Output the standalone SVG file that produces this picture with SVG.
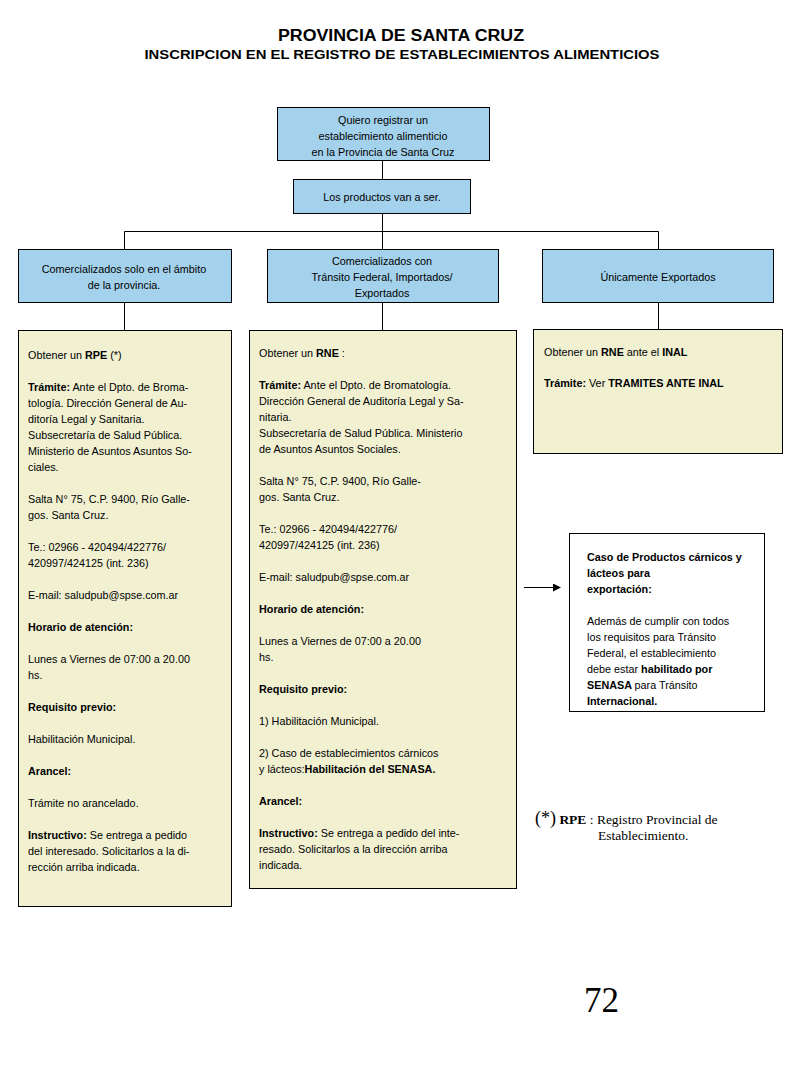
<svg xmlns="http://www.w3.org/2000/svg" width="800" height="1066" viewBox="0 0 800 1066">
<style>
text{font-family:"Liberation Sans",Arial,sans-serif;fill:#000}
.t1{font-size:16px;font-weight:bold}
.t2{font-size:13.5px;font-weight:bold}
.blue{fill:#a4d2ec;stroke:#000;stroke-width:1}
.yel{fill:#f1f1d2;stroke:#000;stroke-width:1}
.wht{fill:#fff;stroke:#000;stroke-width:1}
.s{font-size:10.8px}
.c{text-anchor:middle}
.b{font-weight:bold}
.con{stroke:#000;stroke-width:1;fill:none}
.serif{font-family:"Liberation Serif","Times New Roman",serif}
</style>
<defs>
<marker id="ar" markerWidth="8" markerHeight="8" refX="7" refY="4" orient="auto" markerUnits="userSpaceOnUse">
<path d="M0,0 L8,4 L0,8 z" fill="#000"/>
</marker>
</defs>
<rect width="800" height="1066" fill="#fff"/>
<text class="t1 c" x="401" y="41" textLength="246" lengthAdjust="spacingAndGlyphs">PROVINCIA DE SANTA CRUZ</text>
<text class="t2 c" x="402" y="59" textLength="515" lengthAdjust="spacingAndGlyphs">INSCRIPCION EN EL REGISTRO DE ESTABLECIMIENTOS ALIMENTICIOS</text>

<g id="connectors">
<path class="con" d="M382.5,160 V179"/>
<path class="con" d="M382.5,213 V231.5 M124.5,231.5 H658.5 M124.5,231.5 V249 M382.5,231.5 V249 M658.5,231.5 V249"/>
<path class="con" d="M124.5,302 V330 M382.5,302 V330 M658.5,302 V329"/>
<path class="con" d="M524,587.5 H560" marker-end="url(#ar)"/>
</g>

<g id="start">
<rect class="blue" x="277.5" y="107.5" width="212" height="53"/>
<text class="s c" x="383" y="124">Quiero registrar un</text>
<text class="s c" x="383" y="140">establecimiento alimenticio</text>
<text class="s c" x="383" y="156">en la Provincia de Santa Cruz</text>
</g>

<g id="productos">
<rect class="blue" x="293.5" y="179.5" width="177" height="34"/>
<text class="s c" x="382" y="201">Los productos van a ser.</text>
</g>

<g id="provincia">
<rect class="blue" x="18.5" y="249.5" width="213" height="53"/>
<text class="s c" x="124" y="273">Comercializados solo en el ámbito</text>
<text class="s c" x="124" y="289">de la provincia.</text>
</g>

<g id="federal">
<rect class="blue" x="267.5" y="249.5" width="231" height="53"/>
<text class="s c" x="382" y="265">Comercializados con</text>
<text class="s c" x="382" y="281">Tránsito Federal, Importados/</text>
<text class="s c" x="382" y="297">Exportados</text>
</g>

<g id="exportados">
<rect class="blue" x="542.5" y="249.5" width="231" height="53"/>
<text class="s c" x="658" y="281">Únicamente Exportados</text>
</g>

<g id="rpe">
<rect class="yel" x="18.5" y="330.5" width="213" height="576"/>
<g class="s">
<text x="28" y="359">Obtener un <tspan class="b">RPE</tspan> (*)</text>
<text x="28" y="391"><tspan class="b">Trámite:</tspan> Ante el Dpto. de Broma-</text>
<text x="28" y="407">tología. Dirección General de Au-</text>
<text x="28" y="423">ditoría Legal y Sanitaria.</text>
<text x="28" y="439">Subsecretaría de Salud Pública.</text>
<text x="28" y="455">Ministerio de Asuntos Asuntos So-</text>
<text x="28" y="471">ciales.</text>
<text x="28" y="503">Salta N° 75, C.P. 9400, Río Galle-</text>
<text x="28" y="519">gos. Santa Cruz.</text>
<text x="28" y="551">Te.: 02966 - 420494/422776/</text>
<text x="28" y="567">420997/424125 (int. 236)</text>
<text x="28" y="599">E-mail: saludpub@spse.com.ar</text>
<text x="28" y="631" class="b">Horario de atención:</text>
<text x="28" y="663">Lunes a Viernes de 07:00 a 20.00</text>
<text x="28" y="679">hs.</text>
<text x="28" y="711" class="b">Requisito previo:</text>
<text x="28" y="743">Habilitación Municipal.</text>
<text x="28" y="775" class="b">Arancel:</text>
<text x="28" y="807">Trámite no arancelado.</text>
<text x="28" y="839"><tspan class="b">Instructivo:</tspan> Se entrega a pedido</text>
<text x="28" y="855">del interesado. Solicitarlos a la di-</text>
<text x="28" y="871">rección arriba indicada.</text>
</g>
</g>

<g id="rne">
<rect class="yel" x="249.5" y="330.5" width="267" height="558"/>
<g class="s">
<text x="259" y="357">Obtener un <tspan class="b">RNE</tspan> :</text>
<text x="259" y="389"><tspan class="b">Trámite:</tspan> Ante el Dpto. de Bromatología.</text>
<text x="259" y="405">Dirección General de Auditoría Legal y Sa-</text>
<text x="259" y="421">nitaria.</text>
<text x="259" y="437">Subsecretaría de Salud Pública. Ministerio</text>
<text x="259" y="453">de Asuntos Asuntos Sociales.</text>
<text x="259" y="485">Salta N° 75, C.P. 9400, Río Galle-</text>
<text x="259" y="501">gos. Santa Cruz.</text>
<text x="259" y="533">Te.: 02966 - 420494/422776/</text>
<text x="259" y="549">420997/424125 (int. 236)</text>
<text x="259" y="581">E-mail: saludpub@spse.com.ar</text>
<text x="259" y="613" class="b">Horario de atención:</text>
<text x="259" y="645">Lunes a Viernes de 07:00 a 20.00</text>
<text x="259" y="661">hs.</text>
<text x="259" y="693" class="b">Requisito previo:</text>
<text x="259" y="725">1) Habilitación Municipal.</text>
<text x="259" y="757">2) Caso de establecimientos cárnicos</text>
<text x="259" y="773">y lácteos:<tspan class="b">Habilitación del  SENASA.</tspan></text>
<text x="259" y="805" class="b">Arancel:</text>
<text x="259" y="837"><tspan class="b">Instructivo:</tspan> Se entrega a pedido del inte-</text>
<text x="259" y="853">resado. Solicitarlos a la dirección arriba</text>
<text x="259" y="869">indicada.</text>
</g>
</g>

<g id="inal">
<rect class="yel" x="533.5" y="329.5" width="249" height="124"/>
<g class="s">
<text x="544" y="356">Obtener un <tspan class="b">RNE</tspan> ante el <tspan class="b">INAL</tspan></text>
<text x="544" y="387"><tspan class="b">Trámite:</tspan> Ver <tspan class="b">TRAMITES ANTE INAL</tspan></text>
</g>
</g>

<g id="carnicos">
<rect class="wht" x="569.5" y="533.5" width="195" height="178"/>
<g class="s">
<text x="587" y="561" class="b">Caso de Productos cárnicos y</text>
<text x="587" y="577" class="b">lácteos para</text>
<text x="587" y="593" class="b">exportación:</text>
<text x="587" y="625">Además de cumplir con todos</text>
<text x="587" y="641">los requisitos para Tránsito</text>
<text x="587" y="657">Federal, el establecimiento</text>
<text x="587" y="673">debe estar <tspan class="b">habilitado por</tspan></text>
<text x="587" y="689" class="b">SENASA <tspan font-weight="normal">para  Tránsito</tspan></text>
<text x="587" y="705" class="b">Internacional.</text>
</g>
</g>

<g id="footnote">
<text class="serif" x="535" y="824" font-size="13.5"><tspan font-size="18">(*)</tspan> <tspan font-weight="bold">RPE</tspan> : Registro Provincial de</text>
<text class="serif" x="598" y="840" font-size="13.5">Establecimiento.</text>
</g>

<text class="serif" x="584" y="1012" font-size="35">72</text>
</svg>
